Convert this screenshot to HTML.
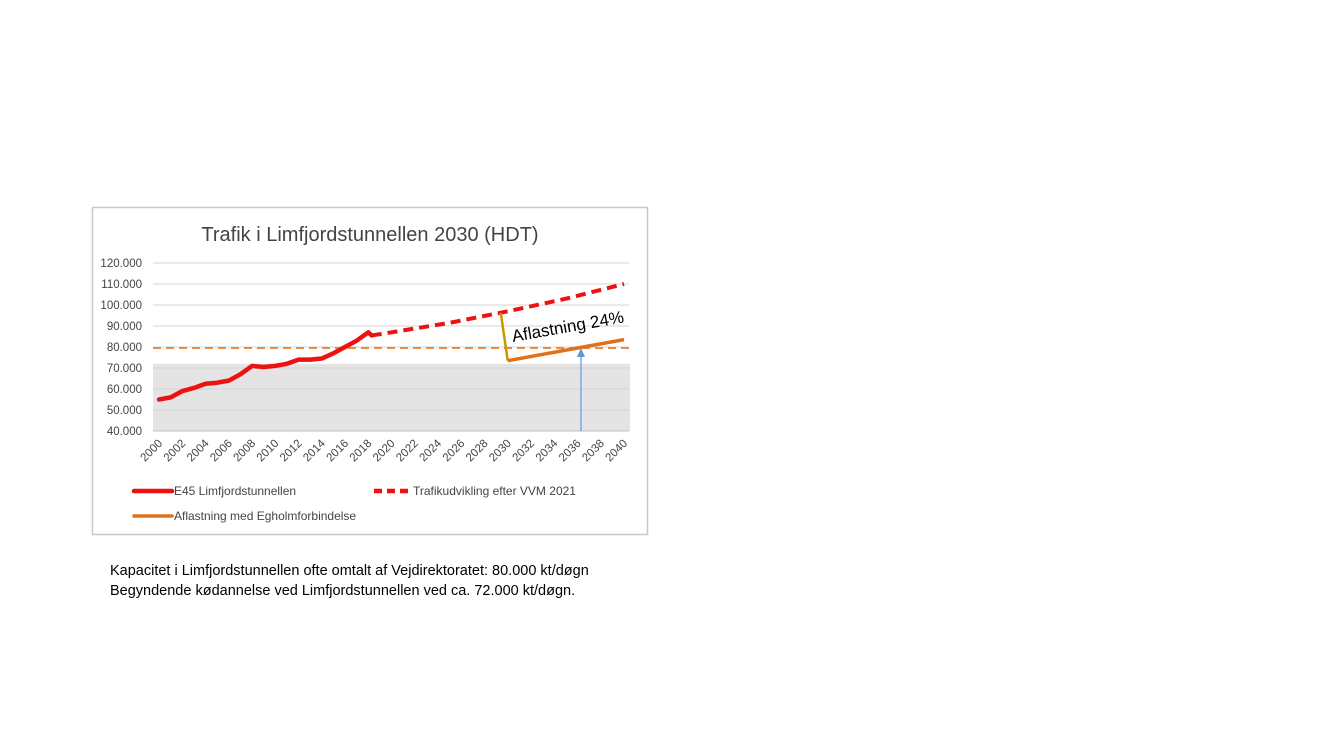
<!DOCTYPE html>
<html><head><meta charset="utf-8">
<style>
body{margin:0;width:1333px;height:750px;background:#fff;overflow:hidden;font-family:"Liberation Sans",sans-serif;}
svg{position:absolute;left:0;top:0}
.note{position:absolute;left:110px;font-size:14.5px;color:#000;}
</style></head><body>
<svg width="1333" height="750">
<rect x="92.5" y="207.5" width="555" height="327" fill="#fff" stroke="#c8c8c8" stroke-width="1.5"/>
<text x="370" y="241" text-anchor="middle" font-size="20" fill="#444">Trafik i Limfjordstunnellen 2030 (HDT)</text>
<g id="grid"></g><g id="series"></g><g id="legend"></g>
</svg>
<div class="note" style="top:563px">Kapacitet i Limfjordstunnellen ofte omtalt af Vejdirektoratet: 80.000 kt/døgn</div>
<div class="note" style="top:583px">Begyndende kødannelse ved Limfjordstunnellen ved ca. 72.000 kt/døgn.</div>
<script>
const yTicks=[40000,50000,60000,70000,80000,90000,100000,110000,120000];
const xTicks=[2000,2002,2004,2006,2008,2010,2012,2014,2016,2018,2020,2022,2024,2026,2028,2030,2032,2034,2036,2038,2040];
const e45Years=[2000,2001,2002,2003,2004,2005,2006,2007,2008,2009,2010,2011,2012,2013,2014,2015,2016,2017,2018,2018.3];
const e45Values=[55000,56000,59000,60500,62500,63000,64000,67000,71000,70500,71000,72000,74000,74000,74500,77000,80000,83000,87000,85500];
const vvmYears=[2018.3,2020,2025,2030,2035,2040];
const vvmValues=[85500,87000,91500,97000,103000,110000];
const aflYears=[2030,2040];
const aflValues=[73500,83500];
const capacity=79500;
const congestion=72000;
const NS="http://www.w3.org/2000/svg";
const X0=159,X1=624,Y0=431,Y1=263;
const xs=y=>X0+(y-2000)/(2040-2000)*(X1-X0);
const ys=v=>Y0-(v-40000)/(120000-40000)*(Y0-Y1);
function mk(tag,attrs,parent,text){const e=document.createElementNS(NS,tag);for(const k in attrs)e.setAttribute(k,attrs[k]);if(text!==undefined)e.textContent=text;parent.appendChild(e);return e;}
const grid=document.getElementById('grid'),ser=document.getElementById('series'),leg=document.getElementById('legend');
const band=mk('rect',{x:153,y:ys(congestion),width:477,height:Y0-ys(congestion),fill:'#e4e4e4'},grid);


yTicks.forEach(v=>{
 const l=mk('line',{x1:153,x2:629,y1:ys(v),y2:ys(v),stroke:v===40000?'#bfbfbf':'#d4d4d4','stroke-width':1},grid);
 
 
 const t=mk('text',{x:142,y:ys(v)+4,'text-anchor':'end','font-size':11.5,fill:'#444'},grid,v.toLocaleString('de-DE'));
 
 
});
xTicks.forEach(y=>{
 const t=mk('text',{x:xs(y)+4,y:444,'text-anchor':'end','font-size':11.5,fill:'#444',transform:`rotate(-45 ${xs(y)+4} 444)`},grid,String(y));
 
 
});
const cap=mk('line',{x1:153,x2:629,y1:ys(capacity),y2:ys(capacity),stroke:'#f08a3c','stroke-width':2,'stroke-dasharray':'8,5'},ser);


const pts=(xa,va)=>xa.map((y,i)=>xs(y)+','+ys(va[i])).join(' ');
const vvm=mk('polyline',{points:pts(vvmYears,vvmValues),fill:'none',stroke:'#ee1111','stroke-width':4,'stroke-dasharray':'10,6'},ser);


const e45=mk('polyline',{points:pts(e45Years,e45Values),fill:'none',stroke:'#ee1111','stroke-width':4.5,'stroke-linejoin':'round','stroke-linecap':'round'},ser);


const drop=mk('line',{x1:xs(2029.4),y1:ys(96200),x2:xs(aflYears[0]),y2:ys(aflValues[0]),stroke:'#c89600','stroke-width':2.5},ser);


const afl=mk('polyline',{points:pts(aflYears,aflValues),fill:'none',stroke:'#e0701a','stroke-width':3.5},ser);


const ax=xs(2036.3);
const arr=mk('line',{x1:ax,y1:Y0,x2:ax,y2:ys(capacity)+8,stroke:'#5b9bd5','stroke-width':1.2},ser);


const head=mk('polygon',{points:`${ax-4},${ys(capacity)+9} ${ax+4},${ys(capacity)+9} ${ax},${ys(capacity)}`,fill:'#5b9bd5'},ser);


const lab=mk('text',{x:513,y:342,'font-size':17,fill:'#000',transform:'rotate(-10 513 342)'},ser,'Aflastning 24%');


// legend
const l1=mk('line',{x1:134,x2:172,y1:491,y2:491,stroke:'#ee1111','stroke-width':4.5,'stroke-linecap':'round'},leg);


const t1=mk('text',{x:174,y:495,'font-size':12,fill:'#444'},leg,'E45 Limfjordstunnellen');


const l2=mk('line',{x1:374,x2:411,y1:491,y2:491,stroke:'#ee1111','stroke-width':4.5,'stroke-dasharray':'8,5'},leg);


const t2=mk('text',{x:413,y:495,'font-size':12,fill:'#444'},leg,'Trafikudvikling efter VVM 2021');


const l3=mk('line',{x1:134,x2:172,y1:516,y2:516,stroke:'#e0701a','stroke-width':3.5,'stroke-linecap':'round'},leg);


const t3=mk('text',{x:174,y:520,'font-size':12,fill:'#444'},leg,'Aflastning med Egholmforbindelse');


</script>
</body></html>
